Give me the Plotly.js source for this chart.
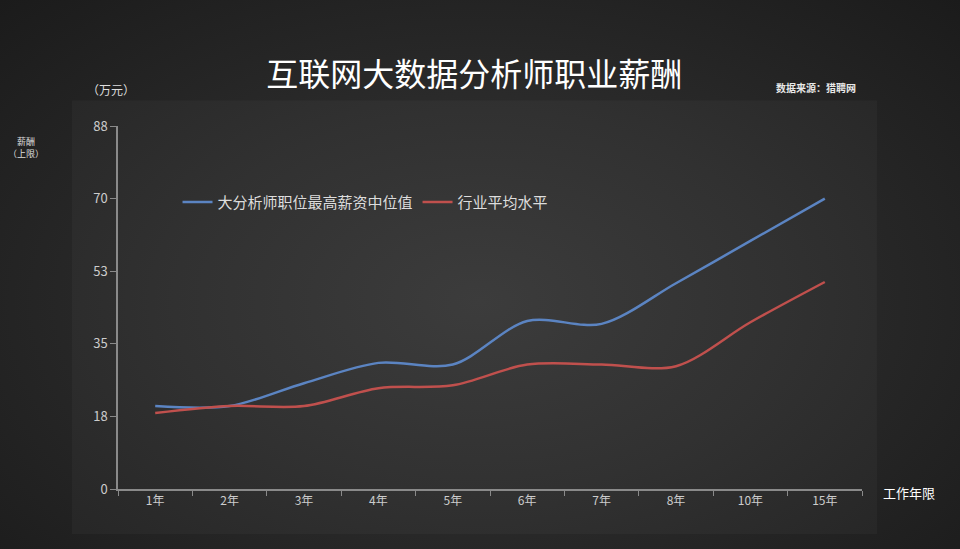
<!DOCTYPE html>
<html>
<head>
<meta charset="utf-8">
<script src="https://cdn.plot.ly/plotly-3.0.1.min.js"></script>
<style>
  html, body { margin: 0; padding: 0; }
  body { background: #1c1c1c; }
  #chart {
    width: 960px; height: 549px;
    background: radial-gradient(ellipse at 50% 55%, #363636 0%, #2b2b2b 45%, #1b1b1b 100%);
  }
</style>
</head>
<body>
<div id="chart"></div>
<script>
var years = ["1年", "2年", "3年", "4年", "5年", "6年", "7年", "8年", "10年", "15年"];
var bigDataMedian = [20, 20, 25.5, 30.4, 30, 40.5, 39.8, 49.6, 59.8, 70];
var industryAvg = [18.3, 20, 20, 24.3, 25, 30, 30, 29.6, 40.2, 49.9];
var yTickVals = [0, 17.5, 35, 52.5, 70, 87.5];
var yTickText = ["0", "18", "35", "53", "70", "88"];

var font = "'Noto Sans CJK SC', 'Noto Sans', sans-serif";

var data = [
  {
    type: "scatter",
    mode: "lines",
    name: "大分析师职位最高薪资中位值",
    x: years,
    y: bigDataMedian,
    line: { color: "#5b84c2", width: 2.5, shape: "spline", smoothing: 0.9 },
  },
  {
    type: "scatter",
    mode: "lines",
    name: "行业平均水平",
    x: years,
    y: industryAvg,
    line: { color: "#c0504d", width: 2.5, shape: "spline", smoothing: 0.9 },
  },
];

var layout = {
  width: 960,
  height: 549,
  margin: { t: 126, r: 98, l: 118, b: 60 },
  paper_bgcolor: "rgba(0,0,0,0)",
  plot_bgcolor: "rgba(0,0,0,0)",
  font: { color: "#d0d0d0", family: font },
  showlegend: true,
  legend: {
    orientation: "h",
    x: 0.08, y: 0.79,
    xanchor: "left", yanchor: "middle",
    font: { size: 15, color: "#dddddd" },
    itemwidth: 30,
    bgcolor: "rgba(0,0,0,0)",
  },
  title: {
    text: "互联网大数据分析师职业薪酬",
    font: { size: 32, color: "#ffffff", family: font },
    x: 0.494, xanchor: "center",
    y: 0.864, yanchor: "middle",
  },
  xaxis: {
    type: "category",
    range: [-0.5, 9.5],
    showgrid: false,
    zeroline: false,
    showline: true,
    linecolor: "#8a8a8a",
    linewidth: 1.5,
    ticks: "outside",
    ticklen: 5,
    tickcolor: "#8a8a8a",
    tickson: "boundaries",
    tickfont: { size: 12, color: "#cccccc" },
  },
  yaxis: {
    range: [0, 87.5],
    tickvals: yTickVals,
    ticktext: yTickText,
    showgrid: false,
    zeroline: false,
    showline: true,
    linecolor: "#8a8a8a",
    linewidth: 1.5,
    ticks: "outside",
    ticklen: 6,
    tickcolor: "#8a8a8a",
    tickfont: { size: 13, color: "#cccccc" },
  },
  shapes: [
    {
      type: "rect", xref: "paper", yref: "paper",
      x0: -0.062, x1: 1.02, y0: -0.124, y1: 1.07,
      line: { width: 0 }, fillcolor: "rgba(255,255,255,0.03)", layer: "below",
    },
  ],
  annotations: [
    { text: "（万元）", xref: "paper", yref: "paper", x: -0.01, y: 1.1,
      showarrow: false, font: { size: 12, color: "#dddddd" }, xanchor: "center", yanchor: "middle" },
    { text: "薪酬<br>（上限）", xref: "paper", yref: "paper", x: -0.124, y: 0.94,
      showarrow: false, font: { size: 9, color: "#dddddd" }, xanchor: "center", yanchor: "middle" },
    { text: "<b>数据来源：猎聘网</b>", xref: "paper", yref: "paper", x: 0.938, y: 1.105,
      showarrow: false, font: { size: 10, color: "#e8e8e8" }, xanchor: "center", yanchor: "middle" },
    { text: "工作年限", xref: "paper", yref: "paper", x: 1.063, y: -0.01,
      showarrow: false, font: { size: 13, color: "#ffffff" }, xanchor: "center", yanchor: "middle" },
  ],
};

Plotly.newPlot("chart", data, layout, { displayModeBar: false });
</script>
</body>
</html>
